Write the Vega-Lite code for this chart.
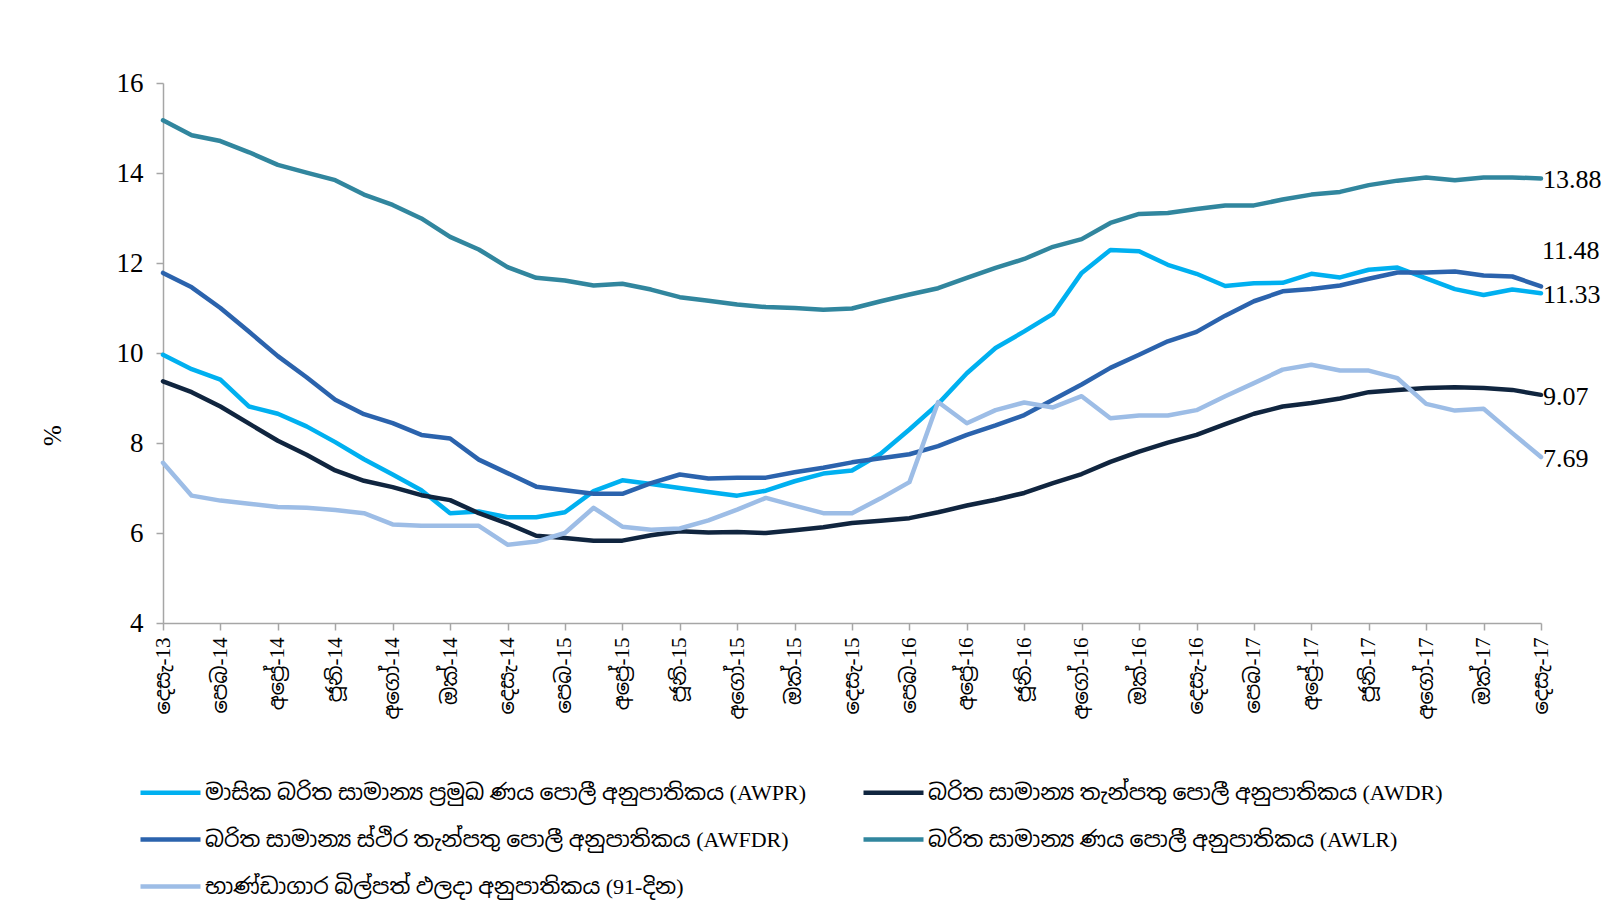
{
  "$schema": "https://vega.github.io/schema/vega-lite/v6.json",
  "width": 1378,
  "height": 540,
  "autosize": {"type": "none"},
  "padding": {"left": 163, "top": 83, "right": 64, "bottom": 290},
  "background": "white",
  "config": {"view": {"stroke": null}, "font": "Liberation Serif"},
  "data": {"values": [
    {"i": 0, "m": "දෙසැ-13", "AWPR": 9.96, "AWDR": 9.37, "AWFDR": 11.78, "AWLR": 15.17, "TB": 7.56},
    {"i": 1, "m": "ජන-14", "AWPR": 9.64, "AWDR": 9.13, "AWFDR": 11.46, "AWLR": 14.84, "TB": 6.83},
    {"i": 2, "m": "පෙබ-14", "AWPR": 9.41, "AWDR": 8.81, "AWFDR": 11.0, "AWLR": 14.71, "TB": 6.72},
    {"i": 3, "m": "මාර්-14", "AWPR": 8.81, "AWDR": 8.43, "AWFDR": 10.47, "AWLR": 14.46, "TB": 6.65},
    {"i": 4, "m": "අප්‍රේ-14", "AWPR": 8.65, "AWDR": 8.05, "AWFDR": 9.93, "AWLR": 14.18, "TB": 6.58},
    {"i": 5, "m": "මැයි-14", "AWPR": 8.37, "AWDR": 7.74, "AWFDR": 9.46, "AWLR": 14.01, "TB": 6.56},
    {"i": 6, "m": "ජූනි-14", "AWPR": 8.02, "AWDR": 7.39, "AWFDR": 8.96, "AWLR": 13.84, "TB": 6.51},
    {"i": 7, "m": "ජූලි-14", "AWPR": 7.64, "AWDR": 7.16, "AWFDR": 8.64, "AWLR": 13.52, "TB": 6.44},
    {"i": 8, "m": "අගෝ-14", "AWPR": 7.3, "AWDR": 7.02, "AWFDR": 8.44, "AWLR": 13.29, "TB": 6.19},
    {"i": 9, "m": "සැප්-14", "AWPR": 6.95, "AWDR": 6.84, "AWFDR": 8.18, "AWLR": 12.99, "TB": 6.16},
    {"i": 10, "m": "ඔක්-14", "AWPR": 6.44, "AWDR": 6.73, "AWFDR": 8.1, "AWLR": 12.58, "TB": 6.16},
    {"i": 11, "m": "නොවැ-14", "AWPR": 6.48, "AWDR": 6.44, "AWFDR": 7.63, "AWLR": 12.3, "TB": 6.16},
    {"i": 12, "m": "දෙසැ-14", "AWPR": 6.35, "AWDR": 6.21, "AWFDR": 7.33, "AWLR": 11.91, "TB": 5.74},
    {"i": 13, "m": "ජන-15", "AWPR": 6.35, "AWDR": 5.94, "AWFDR": 7.03, "AWLR": 11.67, "TB": 5.81},
    {"i": 14, "m": "පෙබ-15", "AWPR": 6.46, "AWDR": 5.89, "AWFDR": 6.95, "AWLR": 11.61, "TB": 6.0},
    {"i": 15, "m": "මාර්-15", "AWPR": 6.93, "AWDR": 5.83, "AWFDR": 6.87, "AWLR": 11.5, "TB": 6.56},
    {"i": 16, "m": "අප්‍රේ-15", "AWPR": 7.17, "AWDR": 5.83, "AWFDR": 6.87, "AWLR": 11.54, "TB": 6.14},
    {"i": 17, "m": "මැයි-15", "AWPR": 7.09, "AWDR": 5.95, "AWFDR": 7.11, "AWLR": 11.41, "TB": 6.07},
    {"i": 18, "m": "ජූනි-15", "AWPR": 7.0, "AWDR": 6.04, "AWFDR": 7.3, "AWLR": 11.24, "TB": 6.1},
    {"i": 19, "m": "ජූලි-15", "AWPR": 6.91, "AWDR": 6.01, "AWFDR": 7.21, "AWLR": 11.16, "TB": 6.28},
    {"i": 20, "m": "අගෝ-15", "AWPR": 6.83, "AWDR": 6.02, "AWFDR": 7.23, "AWLR": 11.08, "TB": 6.52},
    {"i": 21, "m": "සැප්-15", "AWPR": 6.94, "AWDR": 6.0, "AWFDR": 7.23, "AWLR": 11.02, "TB": 6.78},
    {"i": 22, "m": "ඔක්-15", "AWPR": 7.15, "AWDR": 6.06, "AWFDR": 7.35, "AWLR": 11.0, "TB": 6.61},
    {"i": 23, "m": "නොවැ-15", "AWPR": 7.32, "AWDR": 6.13, "AWFDR": 7.45, "AWLR": 10.96, "TB": 6.44},
    {"i": 24, "m": "දෙසැ-15", "AWPR": 7.39, "AWDR": 6.22, "AWFDR": 7.57, "AWLR": 10.99, "TB": 6.44},
    {"i": 25, "m": "ජන-16", "AWPR": 7.76, "AWDR": 6.27, "AWFDR": 7.66, "AWLR": 11.15, "TB": 6.77},
    {"i": 26, "m": "පෙබ-16", "AWPR": 8.3, "AWDR": 6.33, "AWFDR": 7.75, "AWLR": 11.3, "TB": 7.13},
    {"i": 27, "m": "මාර්-16", "AWPR": 8.87, "AWDR": 6.46, "AWFDR": 7.93, "AWLR": 11.44, "TB": 8.91},
    {"i": 28, "m": "අප්‍රේ-16", "AWPR": 9.55, "AWDR": 6.61, "AWFDR": 8.18, "AWLR": 11.67, "TB": 8.44},
    {"i": 29, "m": "මැයි-16", "AWPR": 10.11, "AWDR": 6.74, "AWFDR": 8.39, "AWLR": 11.89, "TB": 8.73},
    {"i": 30, "m": "ජූනි-16", "AWPR": 10.48, "AWDR": 6.89, "AWFDR": 8.62, "AWLR": 12.09, "TB": 8.9},
    {"i": 31, "m": "ජූලි-16", "AWPR": 10.87, "AWDR": 7.11, "AWFDR": 8.96, "AWLR": 12.36, "TB": 8.79},
    {"i": 32, "m": "අගෝ-16", "AWPR": 11.78, "AWDR": 7.31, "AWFDR": 9.3, "AWLR": 12.53, "TB": 9.04},
    {"i": 33, "m": "සැප්-16", "AWPR": 12.29, "AWDR": 7.58, "AWFDR": 9.67, "AWLR": 12.89, "TB": 8.55},
    {"i": 34, "m": "ඔක්-16", "AWPR": 12.26, "AWDR": 7.81, "AWFDR": 9.96, "AWLR": 13.09, "TB": 8.61},
    {"i": 35, "m": "නොවැ-16", "AWPR": 11.96, "AWDR": 8.01, "AWFDR": 10.26, "AWLR": 13.11, "TB": 8.61},
    {"i": 36, "m": "දෙසැ-16", "AWPR": 11.76, "AWDR": 8.18, "AWFDR": 10.47, "AWLR": 13.2, "TB": 8.73},
    {"i": 37, "m": "ජන-17", "AWPR": 11.49, "AWDR": 8.42, "AWFDR": 10.83, "AWLR": 13.28, "TB": 9.04},
    {"i": 38, "m": "පෙබ-17", "AWPR": 11.55, "AWDR": 8.65, "AWFDR": 11.15, "AWLR": 13.28, "TB": 9.33},
    {"i": 39, "m": "මාර්-17", "AWPR": 11.56, "AWDR": 8.81, "AWFDR": 11.37, "AWLR": 13.41, "TB": 9.63},
    {"i": 40, "m": "අප්‍රේ-17", "AWPR": 11.76, "AWDR": 8.89, "AWFDR": 11.42, "AWLR": 13.52, "TB": 9.74},
    {"i": 41, "m": "මැයි-17", "AWPR": 11.68, "AWDR": 8.99, "AWFDR": 11.5, "AWLR": 13.58, "TB": 9.61},
    {"i": 42, "m": "ජූනි-17", "AWPR": 11.85, "AWDR": 9.13, "AWFDR": 11.65, "AWLR": 13.73, "TB": 9.61},
    {"i": 43, "m": "ජූලි-17", "AWPR": 11.9, "AWDR": 9.18, "AWFDR": 11.79, "AWLR": 13.83, "TB": 9.44},
    {"i": 44, "m": "අගෝ-17", "AWPR": 11.66, "AWDR": 9.22, "AWFDR": 11.79, "AWLR": 13.9, "TB": 8.87},
    {"i": 45, "m": "සැප්-17", "AWPR": 11.42, "AWDR": 9.24, "AWFDR": 11.81, "AWLR": 13.84, "TB": 8.72},
    {"i": 46, "m": "ඔක්-17", "AWPR": 11.29, "AWDR": 9.22, "AWFDR": 11.72, "AWLR": 13.9, "TB": 8.76},
    {"i": 47, "m": "නොවැ-17", "AWPR": 11.41, "AWDR": 9.18, "AWFDR": 11.7, "AWLR": 13.9, "TB": 8.22},
    {"i": 48, "m": "දෙසැ-17", "AWPR": 11.33, "AWDR": 9.07, "AWFDR": 11.48, "AWLR": 13.88, "TB": 7.69}
  ]},
  "transform": [{"fold": ["AWPR", "AWDR", "AWFDR", "AWLR", "TB"], "as": ["s", "v"]}],
  "encoding": {
    "x": {
      "field": "m", "type": "ordinal", "sort": null,
      "scale": {"type": "point", "padding": 0},
      "axis": {
        "title": null,
        "values": ["දෙසැ-13", "පෙබ-14", "අප්‍රේ-14", "ජූනි-14", "අගෝ-14", "ඔක්-14", "දෙසැ-14", "පෙබ-15", "අප්‍රේ-15", "ජූනි-15", "අගෝ-15", "ඔක්-15", "දෙසැ-15", "පෙබ-16", "අප්‍රේ-16", "ජූනි-16", "අගෝ-16", "ඔක්-16", "දෙසැ-16", "පෙබ-17", "අප්‍රේ-17", "ජූනි-17", "අගෝ-17", "ඔක්-17", "දෙසැ-17"],
        "labelAngle": 270, "labelAlign": "right", "labelBaseline": "middle",
        "labelFont": "Liberation Serif, Noto Sans Sinhala, Noto Serif Sinhala, serif",
        "labelFontSize": 21, "labelColor": "#000000", "labelPadding": 7, "labelOverlap": false,
        "tickSize": 7, "tickColor": "#A6A6A6", "domainColor": "#A6A6A6", "domainWidth": 1.5, "tickWidth": 1.5,
        "grid": false
      }
    },
    "y": {
      "field": "v", "type": "quantitative",
      "scale": {"domain": [4, 16], "nice": false, "zero": false},
      "axis": {
        "title": "%", "titleFont": "Liberation Serif", "titleFontSize": 25, "titleFontWeight": "normal", "titleColor": "#000000",
        "titleX": -98, "titleY": 352,
        "values": [4, 6, 8, 10, 12, 14, 16],
        "labelFont": "Liberation Serif", "labelFontSize": 27, "labelColor": "#000000", "labelPadding": 13,
        "tickSize": 7, "tickColor": "#A6A6A6", "domainColor": "#A6A6A6", "domainWidth": 1.5, "tickWidth": 1.5,
        "grid": false
      }
    }
  },
  "layer": [
    {
      "mark": {"type": "line", "strokeJoin": "round", "strokeCap": "round"},
      "encoding": {
        "color": {
          "field": "s", "type": "nominal",
          "scale": {"domain": ["AWPR", "AWDR", "AWFDR", "AWLR", "TB"], "range": ["#00B0F0", "#10253F", "#2B63AD", "#31869E", "#9DBDE6"]},
          "legend": {
            "title": null, "orient": "none", "legendX": -25, "legendY": 677, "columns": 2, "direction": "horizontal",
            "symbolType": "stroke", "symbolSize": 3600, "symbolStrokeWidth": 4.5,
            "labelFont": "Liberation Serif, Noto Sans Sinhala, Noto Serif Sinhala, serif",
            "labelFontSize": 22, "labelColor": "#000000", "labelLimit": 1000, "labelOffset": 2,
            "rowPadding": 3, "columnPadding": 42,
            "labelExpr": "{'AWPR': 'මාසික බරිත සාමාන්‍ය ප්‍රමුඛ ණය පොලී අනුපාතිකය  (AWPR)', 'AWDR': 'බරිත  සාමාන්‍ය තැන්පතු පොලී අනුපාතිකය  (AWDR)', 'AWFDR': 'බරිත සාමාන්‍ය ස්ථිර තැන්පතු පොලී අනුපාතිකය  (AWFDR)', 'AWLR': 'බරිත සාමාන්‍ය ණය පොලී අනුපාතිකය (AWLR)', 'TB': 'භාණ්ඩාගාර බිල්පත් ඵලදා අනුපාතිකය (91-දින)'}[datum.value]"
          }
        },
        "strokeWidth": {
          "field": "s", "type": "nominal",
          "scale": {"domain": ["AWPR", "AWDR", "AWFDR", "AWLR", "TB"], "range": [4.5, 4.5, 4.5, 3.5, 4.5]},
          "legend": null
        }
      }
    },
    {
      "transform": [{"filter": "datum.i == 48 && datum.s != 'AWFDR'"}],
      "mark": {"type": "text", "align": "left", "baseline": "middle", "dx": 2, "dy": 2, "fontSize": 26, "font": "Liberation Serif", "color": "#000000"},
      "encoding": {"text": {"field": "v", "type": "quantitative", "format": ".2f"}}
    },
    {
      "transform": [{"filter": "datum.i == 48 && datum.s == 'AWFDR'"}],
      "mark": {"type": "text", "align": "left", "baseline": "middle", "dx": 1, "dy": -35, "fontSize": 26, "font": "Liberation Serif", "color": "#000000"},
      "encoding": {"text": {"field": "v", "type": "quantitative", "format": ".2f"}}
    }
  ]
}
